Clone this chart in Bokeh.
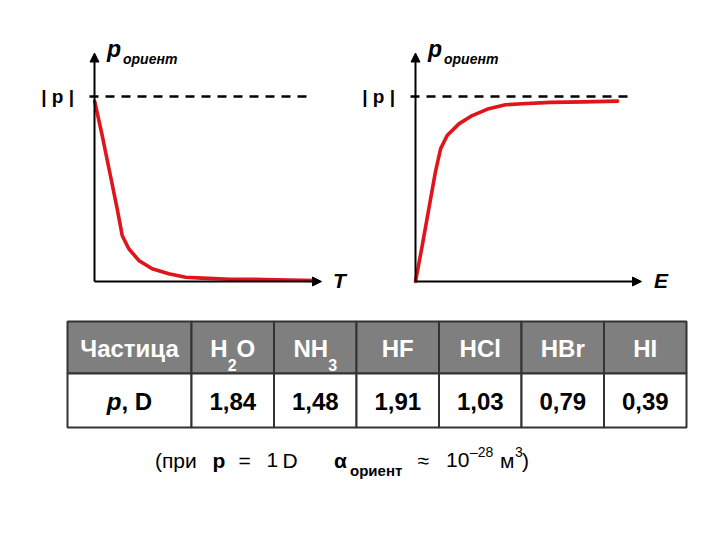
from bokeh.plotting import figure
from bokeh.models import Range1d, Arrow, NormalHead
from bokeh.core.properties import value
from bokeh.embed import file_html
from bokeh.resources import INLINE

# ---------------- data ----------------
# left chart: orientation polarisation vs temperature (fractions of |p|)
T_vals = [0.001, 0.034, 0.070, 0.100, 0.122, 0.151, 0.195, 0.254, 0.327, 0.401, 0.474, 0.599, 0.746, 0.974]
pT_vals = [0.973, 0.789, 0.573, 0.393, 0.249, 0.177, 0.114, 0.069, 0.042, 0.023, 0.018, 0.012, 0.011, 0.005]
# right chart: orientation polarisation vs field strength
E_vals = [0.0, 0.030, 0.059, 0.088, 0.111, 0.140, 0.192, 0.251, 0.324, 0.398, 0.472, 0.597, 0.745, 0.894]
pE_vals = [0.0, 0.195, 0.393, 0.591, 0.717, 0.789, 0.852, 0.897, 0.934, 0.955, 0.961, 0.968, 0.971, 0.975]
p_level = 1.0  # |p|

# table
row_header = "Частица"
particles = ["H2O", "NH3", "HF", "HCl", "HBr", "HI"]
dipole_D = [1.84, 1.48, 1.91, 1.03, 0.79, 0.39]

# ---------------- layout constants ----------------
FONT = value("Liberation Sans")
RED = "#e0141a"
W, H = 704, 524
MID = 0.35  # baseline-to-middle offset, in em

p = figure(width=W, height=H, x_range=Range1d(0, W), y_range=Range1d(H, 0),
           output_backend="svg", toolbar_location=None,
           x_axis_location=None, y_axis_location=None, min_border=0)
p.grid.visible = False
p.outline_line_color = None
p.background_fill_color = "white"

# chart scales (origin in page px, px per unit)
Y0, YU = 281.0, 185.0
charts = [
    dict(name="T", ox=94.0, ux=227.0, xs=T_vals, ys=pT_vals, xlabel="T"),
    dict(name="E", ox=415.0, ux=226.0, xs=E_vals, ys=pE_vals, xlabel="E"),
]
p.extra_y_ranges = {"P": Range1d((Y0 - H) / YU, Y0 / YU)}
p.extra_x_ranges = {c["name"]: Range1d(-c["ox"] / c["ux"], (W - c["ox"]) / c["ux"]) for c in charts}


def chart_text(kw, ux, dx_px, base_px, txt, size, style, align="left"):
    p.text(x=[dx_px / ux], y=[(Y0 - (base_px - MID * size)) / YU], text=[txt], text_font=FONT,
           text_font_style=style, text_font_size=f"{size}px", text_align=align,
           text_baseline="middle", text_color="black", **kw)


Y_TOP = (Y0 - 52.5) / YU  # arrow tip of vertical axis
for c in charts:
    n = c["name"]
    ux = c["ux"]
    kw = dict(x_range_name=n, y_range_name="P")
    # dashed |p| level
    p.line([-5 / ux, 219 / ux], [p_level, p_level], line_color="black", line_width=2.6,
           line_dash="9 7", **kw)
    # axes with arrow heads
    for xs, ys in (([0, 0], [0, Y_TOP]), ([0, 1.0], [0, 0])):
        p.add_layout(Arrow(end=NormalHead(size=9, fill_color="black", line_color="black", line_width=1),
                           x_start=xs[0], y_start=ys[0], x_end=xs[1], y_end=ys[1],
                           line_color="black", line_width=2, **kw))
    # curve
    p.line(c["xs"], c["ys"], line_color=RED, line_width=3.6, line_join="round", line_cap="round", **kw)
    # labels
    p.text(x=[-20.5 / ux], y=[p_level], text=["| p |"], text_font=FONT, text_font_style="bold",
           text_font_size="19px", text_align="right", text_baseline="middle", text_color="black", **kw)
    chart_text(kw, ux, 12.5, 57, "p", 23, "bold italic")
    chart_text(kw, ux, 28.5, 63, "ориент", 14, "bold italic")
    chart_text(kw, ux, 238.5, 287, c["xlabel"], 21, "bold italic")

# ---------------- table ----------------
TL, FIRST_W, COL_W = 67.0, 124.0, 82.5
HT, HB, BB = 321.0, 373.0, 427.0
edges = [TL, TL + FIRST_W] + [TL + FIRST_W + COL_W * (k + 1) for k in range(len(particles))]
lefts, rights = edges[:-1], edges[1:]
centers = [(a + b) / 2 for a, b in zip(lefts, rights)]
ncol = len(lefts)

p.quad(left=lefts, right=rights, top=[HT] * ncol, bottom=[HB] * ncol,
       fill_color="#7f7f7f", line_color="#333333", line_width=2)
p.quad(left=lefts, right=rights, top=[HB] * ncol, bottom=[BB] * ncol,
       fill_color="white", line_color="#333333", line_width=2)

FS, SS = 24, 16
HBASE, SBASE, BBASE = HT + 35, HT + 49, HB + 36
WID = {"H": .722, "O": .778, "N": .722, "F": .611, "C": .722, "l": .278, "B": .722,
       "r": .389, "I": .278, "p": .611, ",": .278, " ": .278, "D": .722}
for d in "0123456789":
    WID[d] = .556


def put_text(xs, bases, txt, size, align="left", color="white", style="bold"):
    p.text(x=xs, y=[b - MID * size for b in bases], text=txt, text_font=FONT, text_font_style=style,
           text_font_size=f"{size}px", text_align=align, text_baseline="middle", text_color=color)


put_text([centers[0]], [HBASE], [row_header], FS, align="center")
for cx, name in zip(centers[1:], particles):
    # split into runs: letters at normal size, digits as subscripts
    runs = []
    for ch in name:
        sub = ch.isdigit()
        if runs and runs[-1][1] == sub:
            runs[-1][0] += ch
        else:
            runs.append([ch, sub])
    widths = [sum(WID.get(ch, .6) for ch in r) * (SS if s else FS) for r, s in runs]
    x = cx - sum(widths) / 2
    for (r, s), w in zip(runs, widths):
        put_text([x], [SBASE if s else HBASE], [r], SS if s else FS)
        x += w

# body row
wp = WID["p"] * FS
wrest = (WID[","] + WID[" "] + WID["D"]) * FS
x0 = centers[0] - (wp + wrest) / 2
put_text([x0], [BBASE], ["p"], FS, color="black", style="bold italic")
put_text([x0 + wp], [BBASE], [", D"], FS, color="black")
put_text(centers[1:], [BBASE] * len(dipole_D), [f"{v:.2f}".replace(".", ",") for v in dipole_D],
         FS, align="center", color="black")

# ---------------- footnote ----------------
FB, FSZ = 467.0, 21
foot = [
    ("(при", 154.5, FB, FSZ, "normal"),
    ("p", 212, FB, FSZ, "bold"),
    ("=", 238, FB, FSZ, "normal"),
    ("1", 266, FB, FSZ, "normal"),
    ("D", 282, FB, FSZ, "normal"),
    ("α", 333.5, FB, FSZ, "bold"),
    ("ориент", 349.5, FB + 8, 15, "bold"),
    ("≈", 417, FB, FSZ, "normal"),
    ("10", 445.5, FB, FSZ, "normal"),
    ("–28", 469.5, FB - 10.5, 14, "normal"),
    ("м", 499.5, FB, FSZ, "normal"),
    ("3", 514.5, FB - 10.5, 14, "normal"),
    (")", 521.5, FB, FSZ, "normal"),
]
for t, x, y, s, st in foot:
    put_text([x], [y], [t], s, color="black", style=st)

open("out.html", "w").write(file_html(p, INLINE))
